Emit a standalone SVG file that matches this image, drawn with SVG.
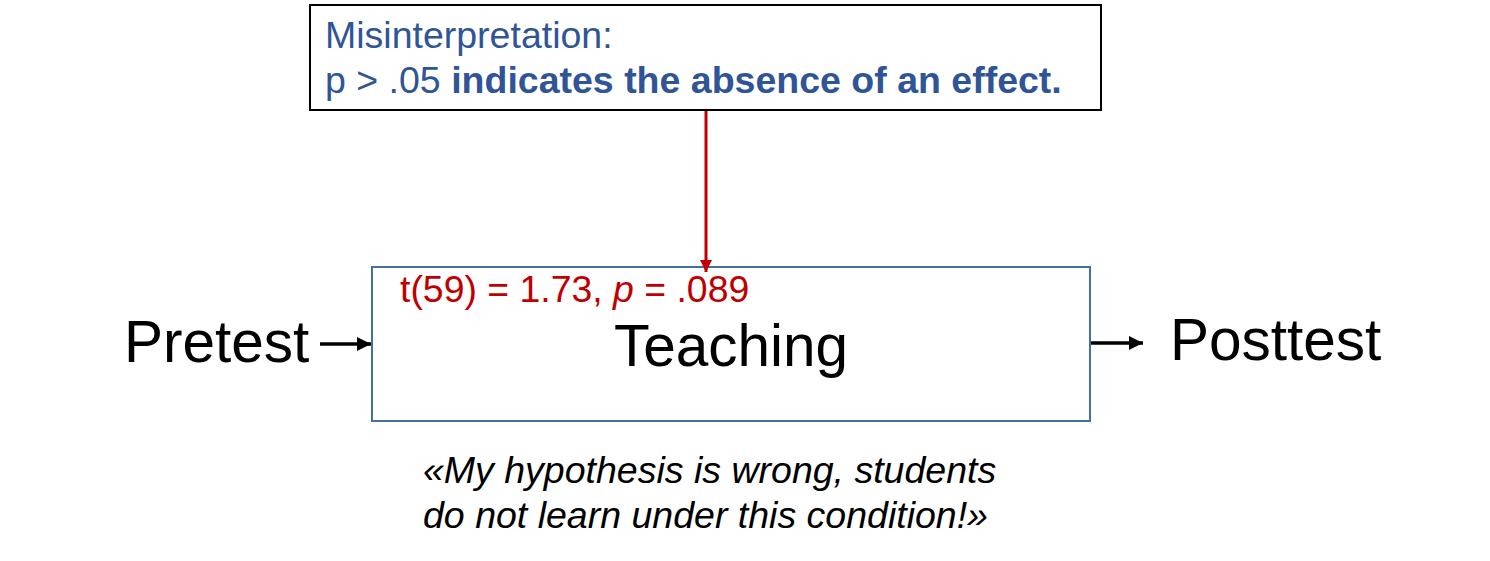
<svg xmlns="http://www.w3.org/2000/svg" width="1490" height="561" viewBox="0 0 1490 561">
<style>
text{font-family:"Liberation Sans",Arial,sans-serif}
.blue{fill:#2F5597;font-size:37.5px}
.big{font-size:58.5px;fill:#000}
.red{fill:#C00000;font-size:37.4px}
.it{font-style:italic;font-size:37.5px;fill:#000}
</style>
<defs>
<marker id="ab" viewBox="0 0 10 10" refX="10" refY="5" markerWidth="4.5" markerHeight="4" orient="auto" markerUnits="strokeWidth"><path d="M0,0 L10,5 L0,10 z" fill="#000"/></marker>
<marker id="ar" viewBox="0 0 10 10" refX="10" refY="5" markerWidth="4.5" markerHeight="4" orient="auto" markerUnits="strokeWidth"><path d="M0,0 L10,5 L0,10 z" fill="#C00000"/></marker>
</defs>
<g id="misinterpretation">
<rect x="310" y="5" width="791" height="105" fill="#fff" stroke="#000" stroke-width="2"/>
<text class="blue" x="325" y="48">Misinterpretation:</text>
<text class="blue" x="325" y="93">p &gt; .05 <tspan font-weight="bold">indicates the absence of an effect.</tspan></text>
</g>
<g id="teaching">
<rect x="372" y="267" width="718" height="154" fill="#fff" stroke="#41719C" stroke-width="2"/>
<text class="red" x="400" y="302">t(59) = 1.73, <tspan font-style="italic">p</tspan> = .089</text>
<text class="big" x="731" y="366" text-anchor="middle">Teaching</text>
</g>
<g id="pretest"><text class="big" x="124" y="362">Pretest</text></g>
<g id="posttest"><text class="big" x="1170" y="360">Posttest</text></g>
<g id="quote">
<text class="it" x="423" y="483">«My hypothesis is wrong, students</text>
<text class="it" x="423" y="528">do not learn under this condition!»</text>
</g>
<g id="connectors">
<line x1="320" y1="344" x2="371" y2="344" stroke="#000" stroke-width="3.5" marker-end="url(#ab)"/>
<line x1="1091" y1="343" x2="1143" y2="343" stroke="#000" stroke-width="3.5" marker-end="url(#ab)"/>
<line x1="706" y1="111" x2="706" y2="272" stroke="#C00000" stroke-width="3" marker-end="url(#ar)"/>
</g>
</svg>
